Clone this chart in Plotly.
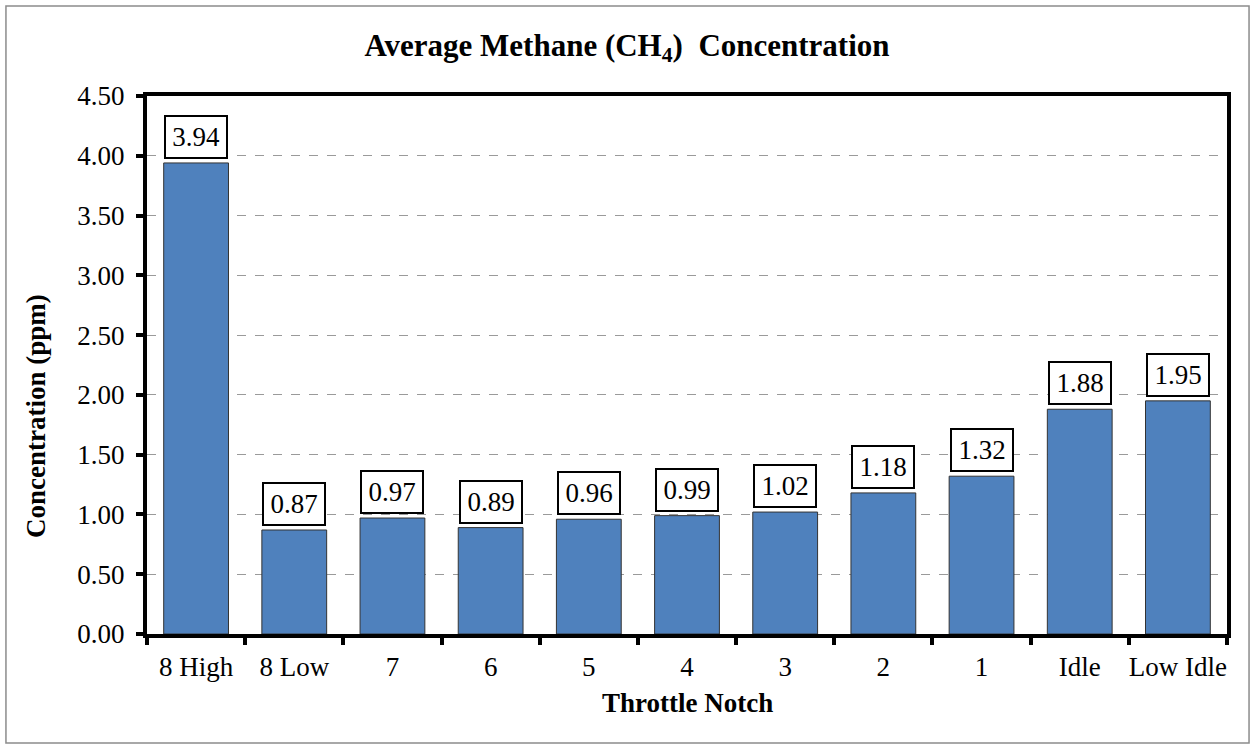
import plotly.graph_objects as go

# Throttle notch categories and average methane readings (ppm)
notches = ["8 High", "8 Low", "7", "6", "5", "4", "3", "2", "1", "Idle", "Low Idle"]
ch4_ppm = [3.94, 0.87, 0.97, 0.89, 0.96, 0.99, 1.02, 1.18, 1.32, 1.88, 1.95]
y_ticks = [0.0, 0.5, 1.0, 1.5, 2.0, 2.5, 3.0, 3.5, 4.0, 4.5]

SERIF = "Liberation Serif"

positions = list(range(len(notches)))

fig = go.Figure()
fig.add_trace(go.Bar(
    x=positions,
    y=ch4_ppm,
    width=0.66,
    marker=dict(color="#4F81BD", line=dict(color="#333333", width=1)),
    customdata=notches,
    hovertemplate="%{customdata}: %{y:.2f}<extra></extra>",
))

# Boxed value labels sitting above each bar
for pos, val in zip(positions, ch4_ppm):
    fig.add_annotation(
        x=pos, y=val, text=f"{val:.2f}",
        xref="x", yref="y",
        showarrow=False, yanchor="bottom", yshift=4,
        font=dict(family=SERIF, size=27, color="black"),
        bgcolor="white", bordercolor="black", borderwidth=2,
        width=58, height=38, valign="middle",
    )

# Axis titles
fig.add_annotation(
    text="<b>Concentration (ppm)</b>", xref="paper", yref="paper",
    x=-0.1028, y=0.405, xanchor="center", yanchor="middle",
    textangle=-90, showarrow=False,
    font=dict(family=SERIF, size=27, color="black"),
)
fig.add_annotation(
    text="<b>Throttle Notch</b>", xref="paper", yref="paper",
    x=0.5, y=-0.128, xanchor="center", yanchor="middle", showarrow=False,
    font=dict(family=SERIF, size=27, color="black"),
)

# Outer chart border
fig.add_shape(
    type="rect", xref="paper", yref="paper",
    x0=-0.1306, x1=1.0204, y0=-0.2026, y1=1.1673,
    line=dict(color="#8c8c8c", width=1.5), fillcolor="rgba(0,0,0,0)",
    layer="below",
)

fig.update_layout(
    width=1254, height=749,
    margin=dict(l=147, r=27, t=96, b=115),
    paper_bgcolor="white", plot_bgcolor="white",
    showlegend=False,
    title=dict(
        text="<b>Average Methane (CH<sub>4</sub>)  Concentration</b>",
        x=0.5, xref="container", xanchor="center",
        y=0.94, yref="container", yanchor="middle",
        font=dict(family=SERIF, size=31, color="black"),
    ),
    font=dict(family=SERIF, size=27, color="black"),
)

fig.update_xaxes(
    range=[-0.5, len(notches) - 0.5],
    tickvals=positions, ticktext=notches, tickangle=0,
    showline=True, linecolor="black", linewidth=4, mirror=True,
    ticks="", showgrid=False, zeroline=False,
    ticklabelstandoff=6,
    tickfont=dict(family=SERIF, size=27, color="black"),
    minor=dict(
        tickvals=[p - 0.5 for p in positions] + [len(notches) - 0.5],
        ticks="outside", ticklen=7, tickwidth=4, tickcolor="black",
        showgrid=False,
    ),
)
fig.update_yaxes(
    range=[0, 4.5],
    tickvals=y_ticks, ticktext=[f"{v:.2f}" for v in y_ticks],
    showline=True, linecolor="black", linewidth=4, mirror=True,
    ticks="outside", ticklen=7, tickwidth=4, tickcolor="black",
    ticklabelstandoff=6,
    tickfont=dict(family=SERIF, size=27, color="black"),
    showgrid=True, gridcolor="#9a9a9a", griddash="dash", gridwidth=1,
    zeroline=False,
)

fig.write_html("out.html")
